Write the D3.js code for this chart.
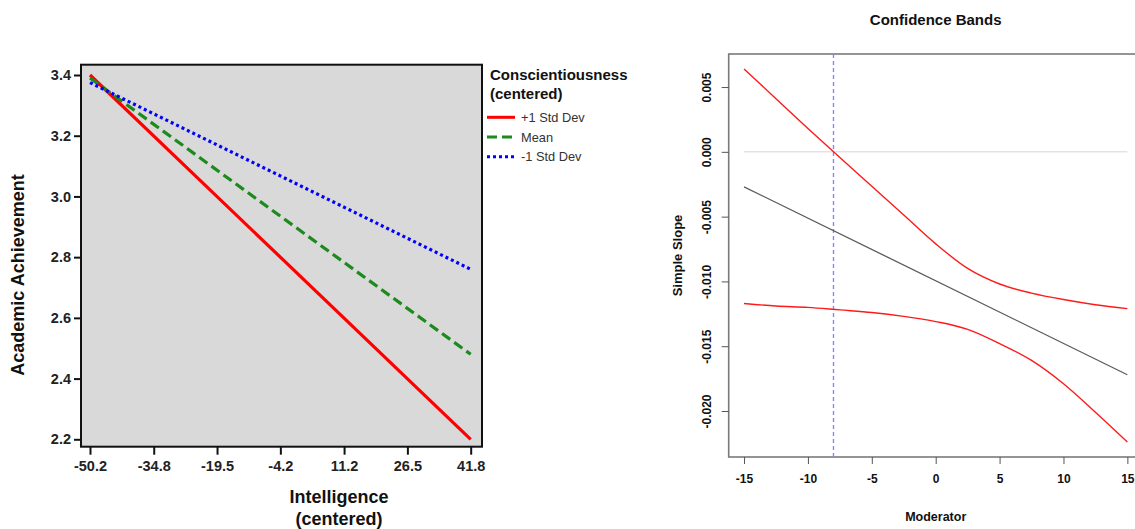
<!DOCTYPE html>
<html>
<head>
<meta charset="utf-8">
<script src="https://cdnjs.cloudflare.com/ajax/libs/d3/7.8.5/d3.min.js"></script>
<style>
  body { margin: 0; background: #fff; }
  svg { display: block; font-family: "Liberation Sans", Arial, sans-serif; }
</style>
</head>
<body>
<svg id="chart" width="1135" height="529"></svg>
<script>
// left panel: predicted achievement at three levels of conscientiousness
const intelTicks = [-50.2, -34.8, -19.5, -4.2, 11.2, 26.5, 41.8];
const achTicks = [2.2, 2.4, 2.6, 2.8, 3.0, 3.2, 3.4];
const groupNames = ["+1 Std Dev", "Mean", "-1 Std Dev"];
const intelEnds = [-50.2, 41.8];
const plusSD = [3.40, 2.20];
const meanLvl = [3.39, 2.48];
const minusSD = [3.375, 2.76];

// right panel: Johnson-Neyman confidence bands
const moderator = [-15, -12.5, -10, -7.5, -5, -2.5, 0, 2.5, 5, 7.5, 10, 12.5, 15];
const upperBand = [0.0064, 0.0041, 0.0018, -0.00044, -0.00266, -0.00488, -0.0071, -0.0090, -0.0102, -0.0109, -0.0114, -0.0118, -0.0121];
const lowerBand = [-0.0117, -0.0119, -0.0120, -0.0122, -0.0124, -0.0127, -0.0131, -0.0137, -0.0148, -0.0161, -0.0179, -0.0201, -0.0224];
const slopeEndsX = [-15, 15];
const slopeEnds = [-0.0027, -0.0172];
const slopeTicks = [-0.020, -0.015, -0.010, -0.005, 0.000, 0.005];
const modTicks = [-15, -10, -5, 0, 5, 10, 15];
const jnPoint = -8;

const svg = d3.select("#chart");

// ---------- left panel ----------
const x1 = d3.scaleLinear().domain([-50.2, 41.8]).range([90, 470.7]);
const y1 = d3.scaleLinear().domain([2.2, 3.4]).range([439.3, 75]);
const box1 = {l: 81, r: 482, t: 64.7, b: 446.7};

const left = svg.append("g");
left.append("rect")
    .attr("x", box1.l).attr("y", box1.t)
    .attr("width", box1.r - box1.l).attr("height", box1.b - box1.t)
    .attr("fill", "#d9d9d9").attr("stroke", "#111").attr("stroke-width", 2);

const yAx1 = left.append("g")
    .attr("transform", "translate(" + box1.l + ",0)")
    .call(d3.axisLeft(y1).tickValues(achTicks).tickSize(7).tickPadding(3)
        .tickFormat(d => d.toFixed(1)));
const xAx1 = left.append("g")
    .attr("transform", "translate(0," + box1.b + ")")
    .call(d3.axisBottom(x1).tickValues(intelTicks).tickSize(8).tickPadding(6)
        .tickFormat(d => d.toFixed(1)));
[yAx1, xAx1].forEach(function (a) {
    a.select(".domain").remove();
    a.selectAll("line").attr("stroke", "#111").attr("stroke-width", 2);
    a.selectAll("text").attr("fill", "#222")
        .style("font-size", "14.5px").style("font-weight", "bold");
});

const series = [
    {name: groupNames[0], vals: plusSD, color: "#ff0000", dash: null},
    {name: groupNames[1], vals: meanLvl, color: "#1c8a1c", dash: "10,5"},
    {name: groupNames[2], vals: minusSD, color: "#0000ff", dash: "3,3"}
];
const line1 = d3.line().x(d => x1(d[0])).y(d => y1(d[1]));

left.selectAll(".grp")
    .data(series)
    .enter().append("path")
    .attr("class", "grp")
    .attr("d", function (s) {
        return line1(intelEnds.map((v, i) => [v, s.vals[i]]));
    })
    .attr("fill", "none")
    .attr("stroke", d => d.color)
    .attr("stroke-width", 3.2)
    .attr("stroke-dasharray", d => d.dash);

left.append("text")
    .attr("transform", "translate(24,275) rotate(-90)")
    .attr("text-anchor", "middle")
    .style("font-size", "18px").style("font-weight", "bold").attr("fill", "#111")
    .text("Academic Achievement");
left.append("text")
    .attr("x", 339).attr("y", 503)
    .attr("text-anchor", "middle")
    .style("font-size", "18px").style("font-weight", "bold").attr("fill", "#111")
    .text("Intelligence");
left.append("text")
    .attr("x", 339).attr("y", 525)
    .attr("text-anchor", "middle")
    .style("font-size", "18px").style("font-weight", "bold").attr("fill", "#111")
    .text("(centered)");

// legend
const legend = left.append("g");
legend.append("text").attr("x", 490).attr("y", 80)
    .style("font-size", "15px").style("font-weight", "bold").attr("fill", "#111")
    .text("Conscientiousness");
legend.append("text").attr("x", 490).attr("y", 99)
    .style("font-size", "15px").style("font-weight", "bold").attr("fill", "#111")
    .text("(centered)");
const item = legend.selectAll(".item")
    .data(series)
    .enter().append("g")
    .attr("class", "item")
    .attr("transform", function (d, i) {
        return "translate(0," + (117.3 + i * 19.7) + ")";
    });
item.append("line")
    .attr("x1", 487).attr("x2", 515)
    .attr("stroke", d => d.color).attr("stroke-width", 3)
    .attr("stroke-dasharray", d => d.dash);
item.append("text")
    .attr("x", 521).attr("y", 4.5)
    .style("font-size", "12.8px").attr("fill", "#333")
    .text(d => d.name);

// ---------- right panel ----------
const x2 = d3.scaleLinear().domain([-16.2, 16.2]).range([728.7, 1142.7]);
const y2 = d3.scaleLinear().domain([-0.02355, 0.00755]).range([457, 54]);

const right = svg.append("g");
right.append("rect")
    .attr("x", x2.range()[0]).attr("y", y2.range()[1])
    .attr("width", x2.range()[1] - x2.range()[0])
    .attr("height", y2.range()[0] - y2.range()[1])
    .attr("fill", "none").attr("stroke", "#7a7a7a").attr("stroke-width", 1.6);

const yAx2 = right.append("g")
    .attr("transform", "translate(" + x2.range()[0] + ",0)")
    .call(d3.axisLeft(y2).tickValues(slopeTicks).tickSize(7).tickFormat(d => d.toFixed(3)));
yAx2.selectAll(".tick text")
    .attr("text-anchor", "middle")
    .attr("transform", "translate(-22,0) rotate(-90)")
    .attr("x", 0).attr("y", 0).attr("dy", "0.35em");
const xAx2 = right.append("g")
    .attr("transform", "translate(0," + y2.range()[0] + ")")
    .call(d3.axisBottom(x2).tickValues(modTicks).tickSize(7).tickPadding(10)
        .tickFormat(d => String(d)));
[yAx2, xAx2].forEach(function (a) {
    a.select(".domain").remove();
    a.selectAll("line").attr("stroke", "#555").attr("stroke-width", 1);
    a.selectAll("text").attr("fill", "#111")
        .style("font-size", "12px").style("font-weight", "bold");
});

// zero line
right.append("line")
    .attr("x1", x2(-15)).attr("x2", x2(15))
    .attr("y1", y2(0)).attr("y2", y2(0))
    .attr("stroke", "#d4d4d4").attr("stroke-width", 1);

// Johnson-Neyman boundary
const jnX = Math.round(x2(jnPoint)) + 0.5;
right.append("line")
    .attr("x1", jnX).attr("x2", jnX)
    .attr("y1", y2.range()[1]).attr("y2", y2.range()[0])
    .style("stroke", "#8585ff").attr("stroke-width", 1.4)
    .attr("stroke-dasharray", "4,3");

const line2 = d3.line().x(d => x2(d[0])).y(d => y2(d[1])).curve(d3.curveMonotoneX);
right.append("path")
    .attr("d", line2(slopeEndsX.map((v, i) => [v, slopeEnds[i]])))
    .attr("fill", "none").attr("stroke", "#5a5a5a").attr("stroke-width", 1.3);
[upperBand, lowerBand].forEach(function (band) {
    right.append("path")
        .attr("d", line2(moderator.map((v, i) => [v, band[i]])))
        .attr("fill", "none").attr("stroke", "#ff1a1a").attr("stroke-width", 1.4);
});

right.append("text")
    .attr("x", 935.7).attr("y", 25)
    .attr("text-anchor", "middle")
    .style("font-size", "15px").style("font-weight", "bold").attr("fill", "#111")
    .text("Confidence Bands");
right.append("text")
    .attr("x", 935.7).attr("y", 521)
    .attr("text-anchor", "middle")
    .style("font-size", "12.5px").style("font-weight", "bold").attr("fill", "#111")
    .text("Moderator");
right.append("text")
    .attr("transform", "translate(682,255.5) rotate(-90)")
    .attr("text-anchor", "middle")
    .style("font-size", "13px").style("font-weight", "bold").attr("fill", "#111")
    .text("Simple Slope");
</script>
</body>
</html>
